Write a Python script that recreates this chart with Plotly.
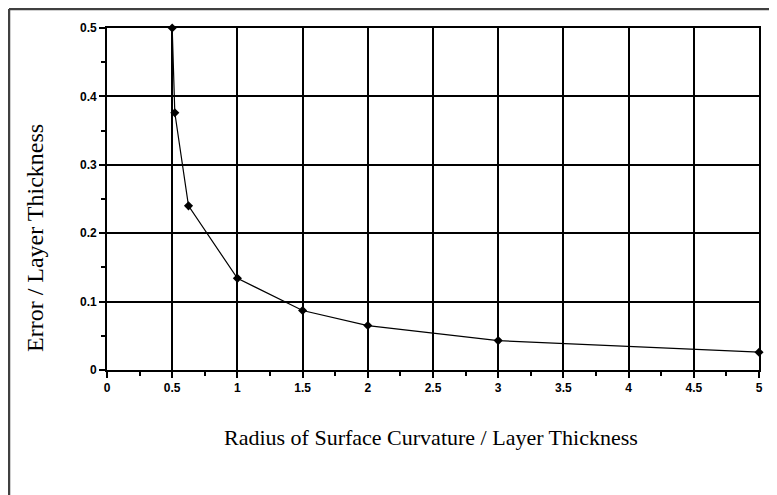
import plotly.graph_objects as go

radius = [0.5, 0.52, 0.625, 1.0, 1.5, 2.0, 3.0, 5.0]
error = [0.5, 0.376, 0.24, 0.134, 0.087, 0.065, 0.043, 0.026]
x_ticks = [0, 0.5, 1, 1.5, 2, 2.5, 3, 3.5, 4, 4.5, 5]
x_labels = ["0", "0.5", "1", "1.5", "2", "2.5", "3", "3.5", "4", "4.5", "5"]
y_ticks = [0, 0.1, 0.2, 0.3, 0.4, 0.5]
y_labels = ["0", "0.1", "0.2", "0.3", "0.4", "0.5"]
x_title = "Radius of Surface Curvature / Layer Thickness"
y_title = "Error / Layer Thickness"

fig = go.Figure()
fig.add_trace(go.Scatter(
    x=radius, y=error, mode="lines+markers",
    line=dict(color="black", width=1.2),
    marker=dict(symbol="diamond", size=7, color="black"),
    showlegend=False, cliponaxis=False,
))

tickfont = dict(family="Liberation Sans, Arial, sans-serif", size=12, color="black", weight="bold")
serif = "Liberation Serif, Times New Roman, serif"
fig.update_layout(
    width=769, height=487,
    margin=dict(l=99, r=18, t=20, b=125),
    paper_bgcolor="white", plot_bgcolor="white",
    xaxis=dict(range=[0, 5], tickvals=x_ticks, ticktext=x_labels,
               showgrid=True, gridcolor="black", gridwidth=1.6,
               zeroline=False, showline=True, linecolor="black", linewidth=1.6,
               mirror=True, ticks="outside", ticklen=6, tickcolor="black",
               tickwidth=1.5, tickfont=tickfont,
               minor=dict(dtick=0.25, tick0=0, ticks="outside", ticklen=4,
                          tickcolor="black", showgrid=False)),
    yaxis=dict(range=[0, 0.5], tickvals=y_ticks, ticktext=y_labels,
               showgrid=True, gridcolor="black", gridwidth=1.6,
               zeroline=False, showline=True, linecolor="black", linewidth=1.6,
               mirror=True, ticks="outside", ticklen=6, tickcolor="black",
               tickwidth=1.5, tickfont=tickfont,
               minor=dict(dtick=0.05, tick0=0, ticks="outside", ticklen=4,
                          tickcolor="black", showgrid=False)),
    annotations=[
        dict(text=x_title, xref="paper", yref="paper", x=0.497, y=-0.196,
             showarrow=False, xanchor="center", yanchor="middle",
             font=dict(family=serif, size=22, color="black")),
        dict(text=y_title, xref="paper", yref="paper", x=-0.1104, y=0.386,
             showarrow=False, xanchor="center", yanchor="middle", textangle=-90,
             font=dict(family=serif, size=24, color="black")),
    ],
    shapes=[
        dict(type="line", xref="paper", yref="paper", x0=-0.1503, x1=-0.1503,
             y0=-0.5, y1=1.0556, line=dict(color="#404040", width=2.5)),
        dict(type="line", xref="paper", yref="paper", x0=-0.1503, x1=1.2,
             y0=1.0556, y1=1.0556, line=dict(color="#404040", width=2.5)),
    ],
)

fig.write_html("out.html")
